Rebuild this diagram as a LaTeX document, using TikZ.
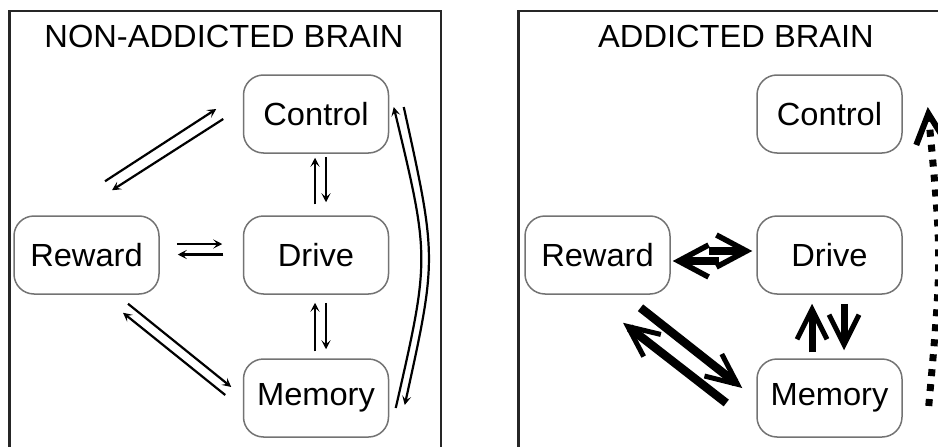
\documentclass[tikz,border=0pt]{standalone}
\usepackage{fontspec}
\setmainfont[FakeStretch=1.02]{Liberation Sans}
\usetikzlibrary{arrows.meta}
\begin{document}
\begin{tikzpicture}[x=1pt,y=-1pt,
  box/.style={draw=black!55, line width=1.5pt, rounded corners=20pt,
    minimum width=145pt, minimum height=78pt, inner sep=0pt,
    font=\fontsize{32}{38}\selectfont},
  ttl/.style={font=\fontsize{32}{38}\selectfont, inner sep=0pt},
  frame/.style={draw=black!85, line width=2.5pt},
  thinarr/.style={line width=2.2pt, -{Stealth[length=9pt,width=9pt,inset=4pt]}},
  thickarr/.style={line width=7.5pt, -{Straight Barb[length=30pt,width=32pt,line width=5.5pt]}},
  fatarr/.style={line width=8.5pt, -{Straight Barb[length=31pt,width=28pt,line width=5pt]}},
  vertarr/.style={line width=7pt, -{Straight Barb[length=30pt,width=30pt,line width=5pt]}},
  dotarr/.style={line width=7pt, dash pattern=on 7pt off 8pt, -{Straight Barb[length=30pt,width=30pt,line width=6pt]}}
]
\useasboundingbox (0,0) rectangle (938,447);
\clip (0,0) rectangle (938,447);

% frames
\draw[frame] (9.5,11) rectangle (441,470);
\draw[frame] (518.5,11) rectangle (980,470);

% titles
\node[ttl] (t1) at (224,36) {NON-ADDICTED BRAIN};
\node[ttl] (t2) at (736,36) {ADDICTED BRAIN};

% left panel nodes
\node[box] (r1) at (86.5,255) {Reward};
\node[box] (c1) at (316,114) {Control};
\node[box] (d1) at (316,255) {Drive};
\node[box] (m1) at (316,398) {Memory};

% right panel nodes
\node[box] (r2) at (597.5,255) {Reward};
\node[box] (c2) at (829.5,114) {Control};
\node[box] (d2) at (829.5,255) {Drive};
\node[box] (m2) at (829.5,398) {Memory};

% left panel connectors
\draw[thinarr] ([shift={(18.5,-34)}]r1.north) -- ([shift={(-26.5,-5)}]c1.west);
\draw[thinarr] ([shift={(-19.5,5)}]c1.west) -- ([shift={(25.5,-25)}]r1.north);

\draw[thinarr] ([shift={(17,-11)}]r1.east) -- ([shift={(-20.5,-11)}]d1.west);
\draw[thinarr] ([shift={(-19.5,-0.5)}]d1.west) -- ([shift={(18,-0.5)}]r1.east);

\draw[thinarr] ([shift={(-1,-11)}]d1.north) -- ([shift={(-1,4)}]c1.south);
\draw[thinarr] ([shift={(10,3)}]c1.south) -- ([shift={(10,-13)}]d1.north);

\draw[thinarr] ([shift={(-1,-7)}]m1.north) -- ([shift={(-1,8)}]d1.south);
\draw[thinarr] ([shift={(10,8)}]d1.south) -- ([shift={(10,-9)}]m1.north);

\draw[thinarr] ([shift={(41.5,9)}]r1.south) -- ([shift={(-11.5,-11)}]m1.west);
\draw[thinarr] ([shift={(-17.5,-3)}]m1.west) -- ([shift={(36.5,18)}]r1.south);

\draw[thinarr] ([shift={(6.5,10)}]m1.east) .. controls (430,258) .. ([shift={(4.5,-7)}]c1.east);
\draw[thinarr] ([shift={(14.5,-7)}]c1.east) .. controls (437,258) .. ([shift={(15.5,7)}]m1.east);

% right panel connectors
\draw[thickarr] ([shift={(38,-4)}]r2.east) -- ([shift={(-4,-4)}]d2.west);
\draw[thickarr] ([shift={(-37,6)}]d2.west) -- ([shift={(2,6)}]r2.east);

\draw[fatarr] ([shift={(43,13)}]r2.south) -- ([shift={(-14,-10)}]m2.west);
\draw[fatarr] ([shift={(-30,5)}]m2.west) -- ([shift={(25.5,28)}]r2.south);

\draw[vertarr] ([shift={(-17.5,-6)}]m2.north) -- ([shift={(-17.5,9)}]d2.south);
\draw[vertarr] ([shift={(14.5,9)}]d2.south) -- ([shift={(14.5,-8)}]m2.north);

\draw[dotarr] ([shift={(26,8)}]m2.east) .. controls (942,258) .. ([shift={(25,-7)}]c2.east);
\end{tikzpicture}
\end{document}
